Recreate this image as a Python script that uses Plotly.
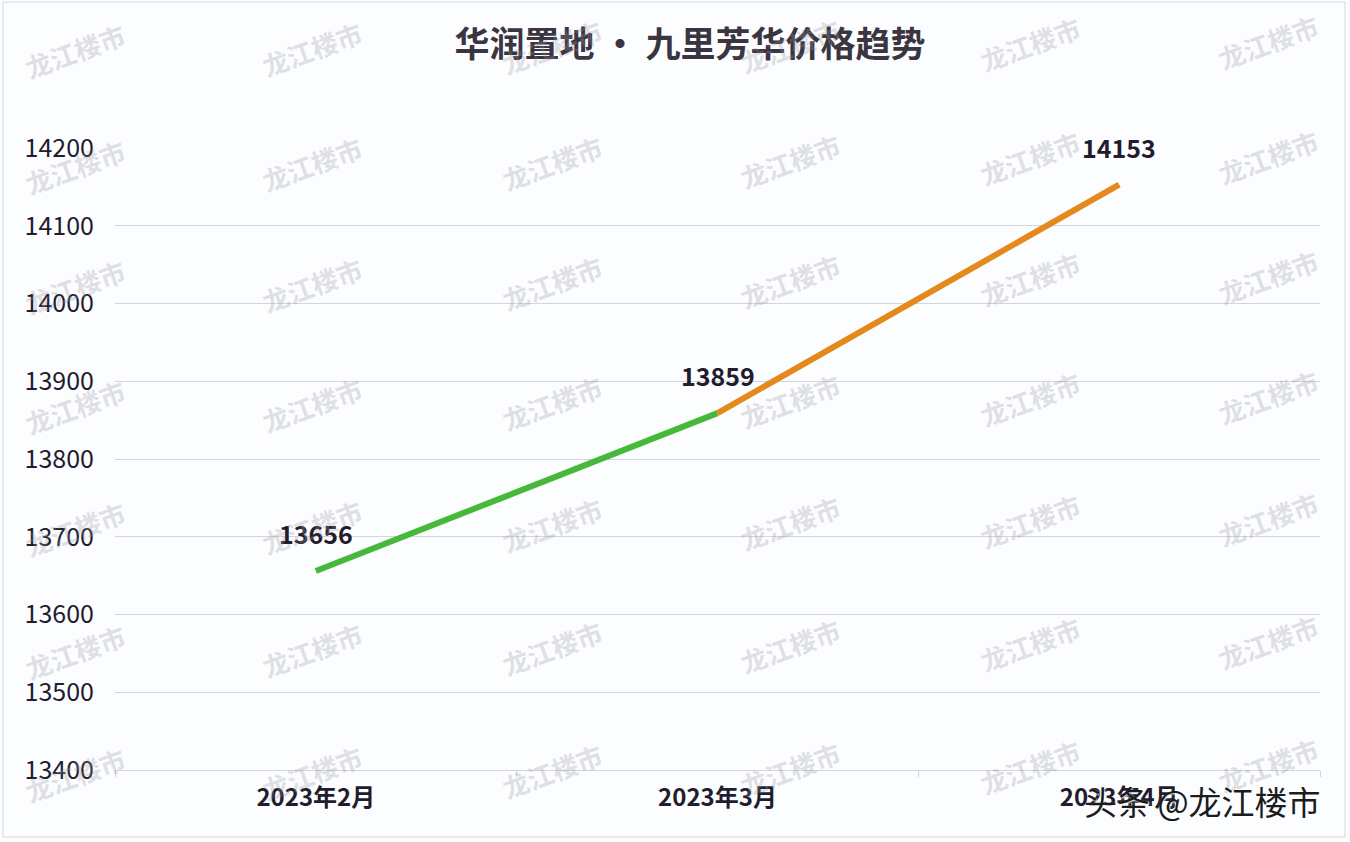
import plotly.graph_objects as go

# ---- data ----
months = ["2023年2月", "2023年3月", "2023年4月"]
prices = [13656, 13859, 14153]
y_tick_vals = [13400, 13500, 13600, 13700, 13800, 13900, 14000, 14100, 14200]
title_text = "华润置地 · 九里芳华价格趋势"
source_text = "头条 @龙江楼市"
watermark_text = "龙江楼市"

# ---- styles ----
seg_colors = ["#46b93a", "#e4891c"]
text_color = "#221c2e"
grid_color = "#d4d5db"
bg = "#fcfdff"
font_family = "Noto Sans CJK SC, Noto Sans, sans-serif"

W, H = 1350, 842
ML, MR, MT, MB = 115, 30, 148, 72
PW, PH = W - ML - MR, H - MT - MB


def px_to_paper(px, py):
    return (px - ML) / PW, (H - MB - py) / PH


fig = go.Figure()

# line segments (each segment its own colour, approximating the gradient)
for i in range(len(months) - 1):
    fig.add_trace(go.Scatter(
        x=months[i:i + 2], y=prices[i:i + 2], mode="lines",
        line=dict(color=seg_colors[i], width=6),
        hoverinfo="skip", showlegend=False,
    ))

# data labels
for m, p in zip(months, prices):
    fig.add_annotation(x=m, y=p, text=str(p), showarrow=False, yshift=38,
                       xanchor="center", yanchor="middle",
                       font=dict(size=25, color=text_color, family=font_family, weight="bold"))

# watermarks
wm_cols = [75, 312, 552, 790, 1030, 1268]
wm_rows = [45, 160, 280, 400, 522, 645, 768]
for r_i, py in enumerate(wm_rows):
    for c_i, px in enumerate(wm_cols):
        xx, yy = px_to_paper(px, py - 2 * c_i + 6)
        fig.add_annotation(xref="paper", yref="paper", x=xx, y=yy, text=watermark_text,
                           showarrow=False, textangle=-20, xanchor="center", yanchor="middle",
                           font=dict(size=26, color="rgba(150,150,160,0.30)",
                                     family=font_family, weight="bold"))

# source watermark bottom-right
sx, sy = px_to_paper(1202, 801)
fig.add_annotation(xref="paper", yref="paper", x=sx, y=sy, text=source_text,
                   showarrow=False, xanchor="center", yanchor="middle",
                   font=dict(size=33, color="#1c1c1c", family=font_family,
                             shadow="1px 1px 2px white"))

# outer frame
fx0, fy0 = px_to_paper(3, 837)
fx1, fy1 = px_to_paper(1345, 2)
fig.add_shape(type="rect", xref="paper", yref="paper", x0=fx0, y0=fy0, x1=fx1, y1=fy1,
              line=dict(color="#d6d7dd", width=1), layer="below")

fig.update_layout(
    width=W, height=H,
    margin=dict(l=ML, r=MR, t=MT, b=MB, autoexpand=False),
    paper_bgcolor=bg, plot_bgcolor=bg,
    title=dict(text=title_text, x=690 / W, xanchor="center", y=1 - 45 / H, yanchor="middle",
               font=dict(size=35, color="#3a3540", family=font_family, weight="bold")),
    xaxis=dict(type="category", categoryorder="array", categoryarray=months,
               range=[-0.5, len(months) - 0.5], tickson="boundaries",
               ticks="outside", ticklen=6, tickcolor=grid_color,
               showgrid=False, showline=True, linecolor=grid_color, zeroline=False,
               tickfont=dict(size=24, color=text_color, family=font_family, weight="bold"),
               ticklabelstandoff=6, fixedrange=True, automargin=False),
    yaxis=dict(range=[y_tick_vals[0], y_tick_vals[-1]], tickvals=y_tick_vals,
               tickformat="d",
               showgrid=True, gridcolor=grid_color, gridwidth=1, zeroline=False,
               showline=False, ticks="",
               tickfont=dict(size=25, color=text_color, family=font_family),
               ticklabelstandoff=20, fixedrange=True, automargin=False),
    showlegend=False,
)

fig.write_html("out.html", config={"displayModeBar": False},
               post_script="document.body.style.margin='0';document.body.style.overflow='hidden';")
